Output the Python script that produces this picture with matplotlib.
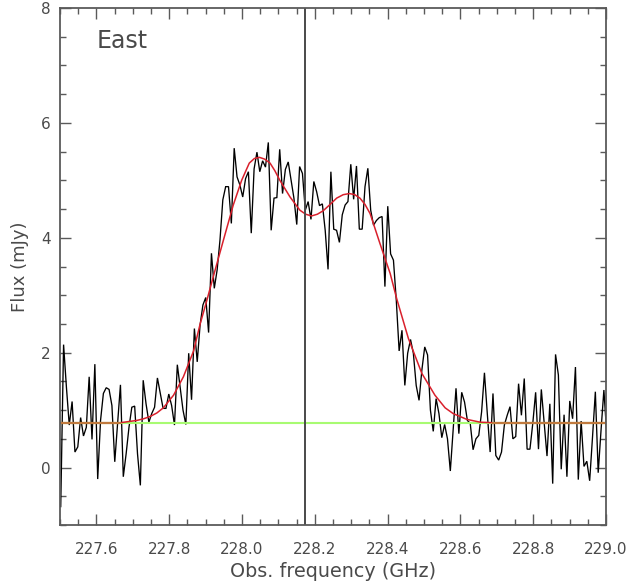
"""East spectrum with double gaussian fit"""
import numpy as np
import matplotlib
matplotlib.use("Agg")
import matplotlib.pyplot as plt
from matplotlib.ticker import MultipleLocator

# channel grid of the spectrum
first_channel = 227.502
channel_width = 0.0078125

flux = [
    -0.68, 2.14, 1.40, 0.74, 1.15, 0.27, 0.36, 0.87, 0.55, 0.70,
    1.58, 0.49, 1.80, -0.20, 0.82, 1.29, 1.39, 1.36, 1.08, 0.10,
    0.77, 1.44, -0.16, 0.24, 0.70, 1.05, 1.07, 0.24, -0.31, 1.52,
    1.11, 0.79, 0.94, 1.05, 1.56, 1.29, 1.03, 1.03, 1.28, 1.08,
    0.74, 1.79, 1.40, 1.00, 0.75, 1.99, 1.18, 2.42, 1.84, 2.48,
    2.83, 2.96, 2.35, 3.73, 3.12, 3.44, 3.96, 4.66, 4.89, 4.89,
    4.25, 5.56, 5.06, 4.92, 4.71, 5.03, 5.15, 4.08, 5.20, 5.49,
    5.15, 5.34, 5.23, 5.66, 4.13, 4.69, 4.70, 5.54, 4.77, 5.19,
    5.32, 5.00, 4.69, 4.23, 5.24, 5.12, 4.48, 4.63, 4.32, 4.98,
    4.80, 4.56, 4.59, 4.13, 3.45, 5.15, 4.15, 4.13, 3.92, 4.40,
    4.57, 4.63, 5.28, 4.67, 5.25, 4.15, 4.15, 4.89, 5.21, 4.48,
    4.22, 4.30, 4.35, 4.37, 3.15, 4.55, 3.72, 3.61, 2.91, 2.03,
    2.39, 1.43, 1.99, 2.23, 1.99, 1.43, 1.17, 1.70, 2.10, 1.96,
    1.00, 0.63, 1.20, 0.94, 0.52, 0.75, 0.50, -0.06, 0.65, 1.38,
    0.59, 1.31, 1.14, 0.82, 0.77, 0.31, 0.50, 0.56, 0.97, 1.65,
    0.94, 0.27, 1.29, 0.21, 0.13, 0.27, 0.74, 0.91, 1.06, 0.50,
    0.54, 1.46, 0.91, 1.55, 0.32, 0.32, 0.77, 1.31, 0.32, 1.36,
    0.77, 0.20, 1.11, -0.28, 1.97, 1.61, -0.03, 0.92, -0.16, 1.16,
    0.85, 1.75, -0.21, 0.81, 0.02, 0.11, -0.23, 0.53, 1.32, -0.09,
    0.65, 1.35, 0.59,
]

# fitted model
fit_freq = [
    227.500, 227.600, 227.665, 227.711, 227.730, 227.748, 227.766, 227.784,
    227.812, 227.839, 227.867, 227.885, 227.903, 227.921, 227.949, 227.976,
    227.999, 228.020, 228.034, 228.048, 228.062, 228.077, 228.090, 228.104,
    228.132, 228.159, 228.175, 228.191, 228.207, 228.223, 228.242, 228.260,
    228.278, 228.295, 228.310, 228.324, 228.338, 228.352, 228.379, 228.407,
    228.425, 228.457, 228.494, 228.530, 228.558, 228.580, 228.617, 228.654,
    228.690, 229.000,
]
fit_flux = [
    0.78, 0.78, 0.78, 0.82, 0.85, 0.89, 0.95, 1.04,
    1.26, 1.58, 2.03, 2.50, 2.90, 3.32, 3.96, 4.57,
    5.00, 5.30, 5.38, 5.40, 5.37, 5.30, 5.17, 5.00,
    4.71, 4.48, 4.41, 4.38, 4.41, 4.47, 4.58, 4.69,
    4.75, 4.77, 4.75, 4.69, 4.58, 4.42, 3.90, 3.38,
    2.94, 2.25, 1.64, 1.26, 1.04, 0.94, 0.84, 0.79,
    0.78, 0.78,
]

continuum = 0.78
line_freq = 228.173

AXIS_GREY = "#5a5a5a"
TEXT_GREY = "#4a4a4a"


def style_axes(ax):
    ax.set_xlim(227.5, 229.0)
    ax.set_ylim(-1, 8)
    ax.xaxis.set_major_locator(MultipleLocator(0.2))
    ax.xaxis.set_minor_locator(MultipleLocator(0.05))
    ax.yaxis.set_major_locator(MultipleLocator(2))
    ax.yaxis.set_minor_locator(MultipleLocator(0.5))
    ax.tick_params(which="major", direction="in", top=True, right=True, length=8,
                   width=1.0, color=AXIS_GREY, labelsize=11, labelcolor=TEXT_GREY)
    ax.tick_params(which="minor", direction="in", top=True, right=True, length=4,
                   width=1.0, color=AXIS_GREY)
    ax.tick_params(axis="x", which="major", pad=12)
    ax.tick_params(axis="y", which="major", pad=6.5)
    for spine in ax.spines.values():
        spine.set_color(AXIS_GREY)
        spine.set_linewidth(1.3)


def main():
    fig = plt.figure(figsize=(6.34, 5.87), dpi=100)
    ax = fig.add_axes([60 / 634, 62 / 587, 546 / 634, 517 / 587])

    freq = first_channel + channel_width * np.arange(len(flux))
    ax.plot(freq, flux, color="black", lw=0.95, solid_joinstyle="miter")
    ax.axhline(continuum, color="#a8fb72", lw=1.5)

    # the fit is brownish where it lies on top of the green continuum
    model = np.array(fit_flux)
    ax.plot(fit_freq, model, color="#d9202c", lw=1.1)
    ax.plot(fit_freq, np.ma.masked_where(model > continuum, model), color="#c07a3e", lw=1.6)
    ax.axvline(line_freq, color="#4a4a4a", lw=1.4)

    style_axes(ax)
    ax.set_xlabel("Obs. frequency (GHz)", fontsize=13.8, color=TEXT_GREY, labelpad=3.5)
    ax.set_ylabel("Flux (mJy)", fontsize=13, color=TEXT_GREY, labelpad=8.5)
    ax.text(37 / 546, 0.936, "East", fontsize=17, color=TEXT_GREY,
            transform=ax.transAxes, va="center")

    fig.savefig("out.png", dpi=100)


if __name__ == "__main__":
    main()
